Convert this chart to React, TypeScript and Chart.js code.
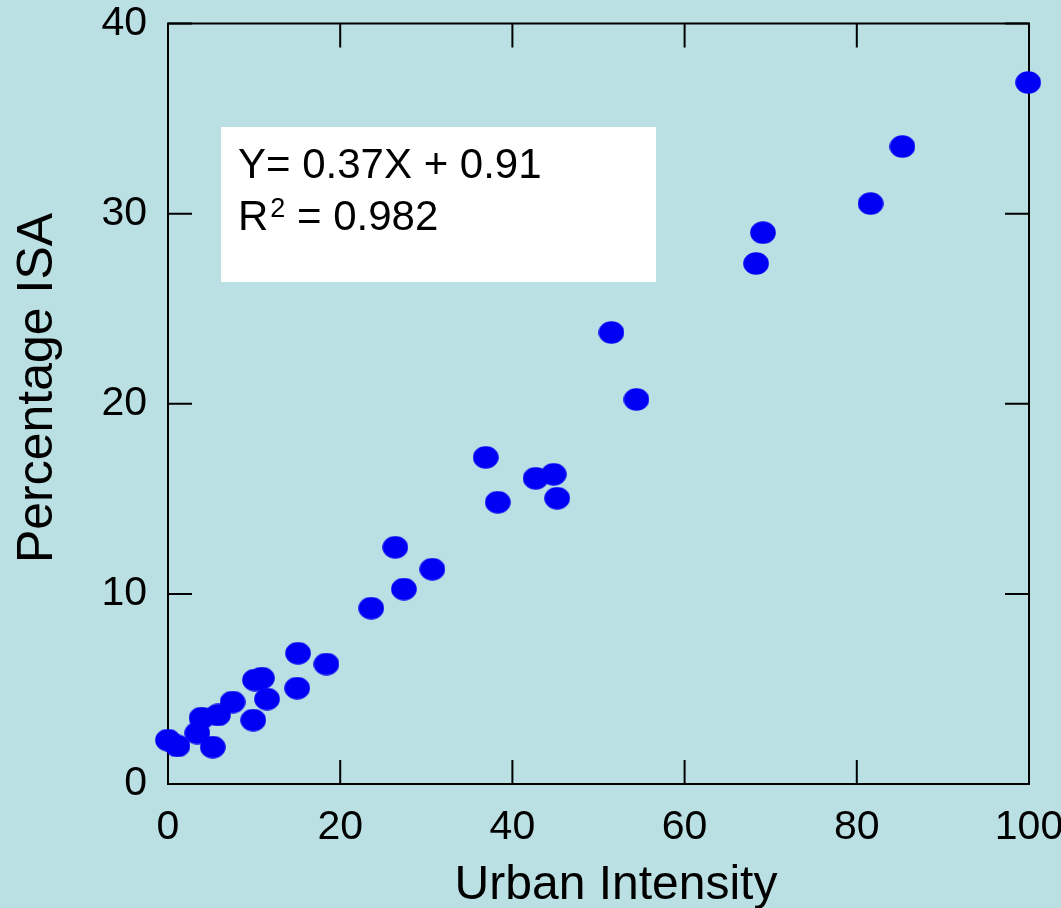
import React, { useEffect, useRef } from "react";
import { Chart, registerables } from "chart.js";

Chart.register(...registerables);

const urbanIntensity = [
  0.0, 1.1, 3.4, 3.9, 5.2, 5.8, 7.5, 9.9, 10.1, 10.9, 11.5, 15.0, 15.1, 18.4,
  23.6, 26.4, 27.4, 30.7, 36.9, 38.3, 42.7, 44.8, 45.2, 51.5, 54.4, 68.3, 69.1,
  81.6, 85.3, 99.9,
];
const percentageISA = [
  2.31, 2.0, 2.68, 3.47, 1.94, 3.63, 4.31, 3.36, 5.47, 5.57, 4.47, 5.04, 6.88,
  6.31, 9.25, 12.45, 10.25, 11.3, 17.18, 14.82, 16.08, 16.29, 15.03, 23.75,
  20.23, 27.38, 29.0, 30.53, 33.53, 36.9,
];
const xTicks = [0, 20, 40, 60, 80, 100];
const yTicks = [0, 10, 20, 30, 40];
const xTitle = "Urban Intensity";
const yTitle = "Percentage ISA";
const equationLine = "Y= 0.37X + 0.91";
const r2Value = "0.982";

const FONT = '"Liberation Sans", Arial, Helvetica, sans-serif';
const BG = "#bae0e3";

function makeEllipse(): HTMLCanvasElement {
  const c = document.createElement("canvas");
  c.width = 26;
  c.height = 23;
  const g = c.getContext("2d")!;
  g.fillStyle = "#0000f5";
  g.beginPath();
  g.ellipse(13, 11.5, 12.8, 11.2, 0, 0, Math.PI * 2);
  g.fill();
  return c;
}

const framePlugin = {
  id: "frameAndDecor",
  beforeDatasetsDraw(chart: any) {
    const { ctx, chartArea: a, scales } = chart;
    ctx.save();
    ctx.strokeStyle = "#000";
    ctx.lineWidth = 2;
    ctx.strokeRect(a.left, a.top, a.right - a.left, a.bottom - a.top);
    const tl = 24;
    ctx.beginPath();
    for (const v of xTicks) {
      const px = scales.x.getPixelForValue(v);
      ctx.moveTo(px, a.bottom);
      ctx.lineTo(px, a.bottom - tl);
      ctx.moveTo(px, a.top);
      ctx.lineTo(px, a.top + tl);
    }
    for (const v of yTicks) {
      const py = scales.y.getPixelForValue(v);
      ctx.moveTo(a.left, py);
      ctx.lineTo(a.left + tl, py);
      ctx.moveTo(a.right, py);
      ctx.lineTo(a.right - tl, py);
    }
    ctx.stroke();

    // equation box
    ctx.fillStyle = "#ffffff";
    ctx.fillRect(221, 127, 435, 155);
    ctx.fillStyle = "#000";
    ctx.textBaseline = "alphabetic";
    ctx.textAlign = "left";
    ctx.font = `42px ${FONT}`;
    ctx.fillText(equationLine, 238, 178);
    ctx.fillText("R", 238, 230);
    const rw = ctx.measureText("R").width;
    ctx.font = `27px ${FONT}`;
    ctx.fillText("2", 238 + rw + 2, 217);
    const sw = ctx.measureText("2").width;
    ctx.font = `42px ${FONT}`;
    ctx.fillText(" = " + r2Value, 238 + rw + 2 + sw, 230);
    ctx.restore();
  },
  afterDraw(chart: any) {
    const { ctx } = chart;
    ctx.save();
    ctx.fillStyle = "#000";
    ctx.textAlign = "center";
    ctx.textBaseline = "alphabetic";
    ctx.font = `48px ${FONT}`;
    ctx.fillText(xTitle, 616, 899);
    ctx.translate(52, 388);
    ctx.rotate(-Math.PI / 2);
    ctx.font = `50px ${FONT}`;
    ctx.fillText(yTitle, 0, 0);
    ctx.restore();
  },
};

export default function App() {
  const ref = useRef<HTMLCanvasElement>(null);
  useEffect(() => {
    document.body.style.margin = "0";
    document.body.style.background = BG;
    const point = makeEllipse();
    const chart = new Chart(ref.current!, {
      type: "scatter",
      data: {
        datasets: [
          {
            data: urbanIntensity.map((x, i) => ({ x, y: percentageISA[i] })),
            pointStyle: point as any,
            pointRadius: 12,
            pointHoverRadius: 12,
            backgroundColor: "#0000f5",
            borderWidth: 0,
            clip: false as any,
          },
        ],
      },
      options: {
        animation: false,
        responsive: false,
        maintainAspectRatio: false,
        events: [],
        layout: { padding: { left: 0, top: 23.5, right: 32, bottom: 0 } },
        plugins: {
          legend: { display: false },
          tooltip: { enabled: false },
        },
        scales: {
          x: {
            type: "linear",
            min: 0,
            max: 100,
            afterFit: (s: any) => {
              s.height = 124;
              s.paddingLeft = 0;
              s.paddingRight = 0;
              s.paddingTop = 0;
              s.paddingBottom = 0;
            },
            afterBuildTicks: (s: any) => {
              s.ticks = xTicks.map((v) => ({ value: v }));
            },
            grid: { display: false, drawTicks: false },
            border: { display: false },
            ticks: {
              color: "#000",
              font: { family: FONT, size: 41 },
              padding: 19,
              maxRotation: 0,
              autoSkip: false,
            },
          },
          y: {
            type: "linear",
            min: 0,
            max: 40,
            afterFit: (s: any) => {
              s.width = 168;
              s.paddingLeft = 0;
              s.paddingRight = 0;
              s.paddingTop = 0;
              s.paddingBottom = 0;
            },
            afterBuildTicks: (s: any) => {
              s.ticks = yTicks.map((v) => ({ value: v }));
            },
            grid: { display: false, drawTicks: false },
            border: { display: false },
            ticks: {
              color: "#000",
              font: { family: FONT, size: 41 },
              padding: 21,
              autoSkip: false,
            },
          },
        },
      },
      plugins: [framePlugin],
    });
    return () => chart.destroy();
  }, []);
  return (
    <div style={{ width: 1061, height: 908, background: BG }}>
      <canvas ref={ref} width={1061} height={908} style={{ display: "block" }} />
    </div>
  );
}
